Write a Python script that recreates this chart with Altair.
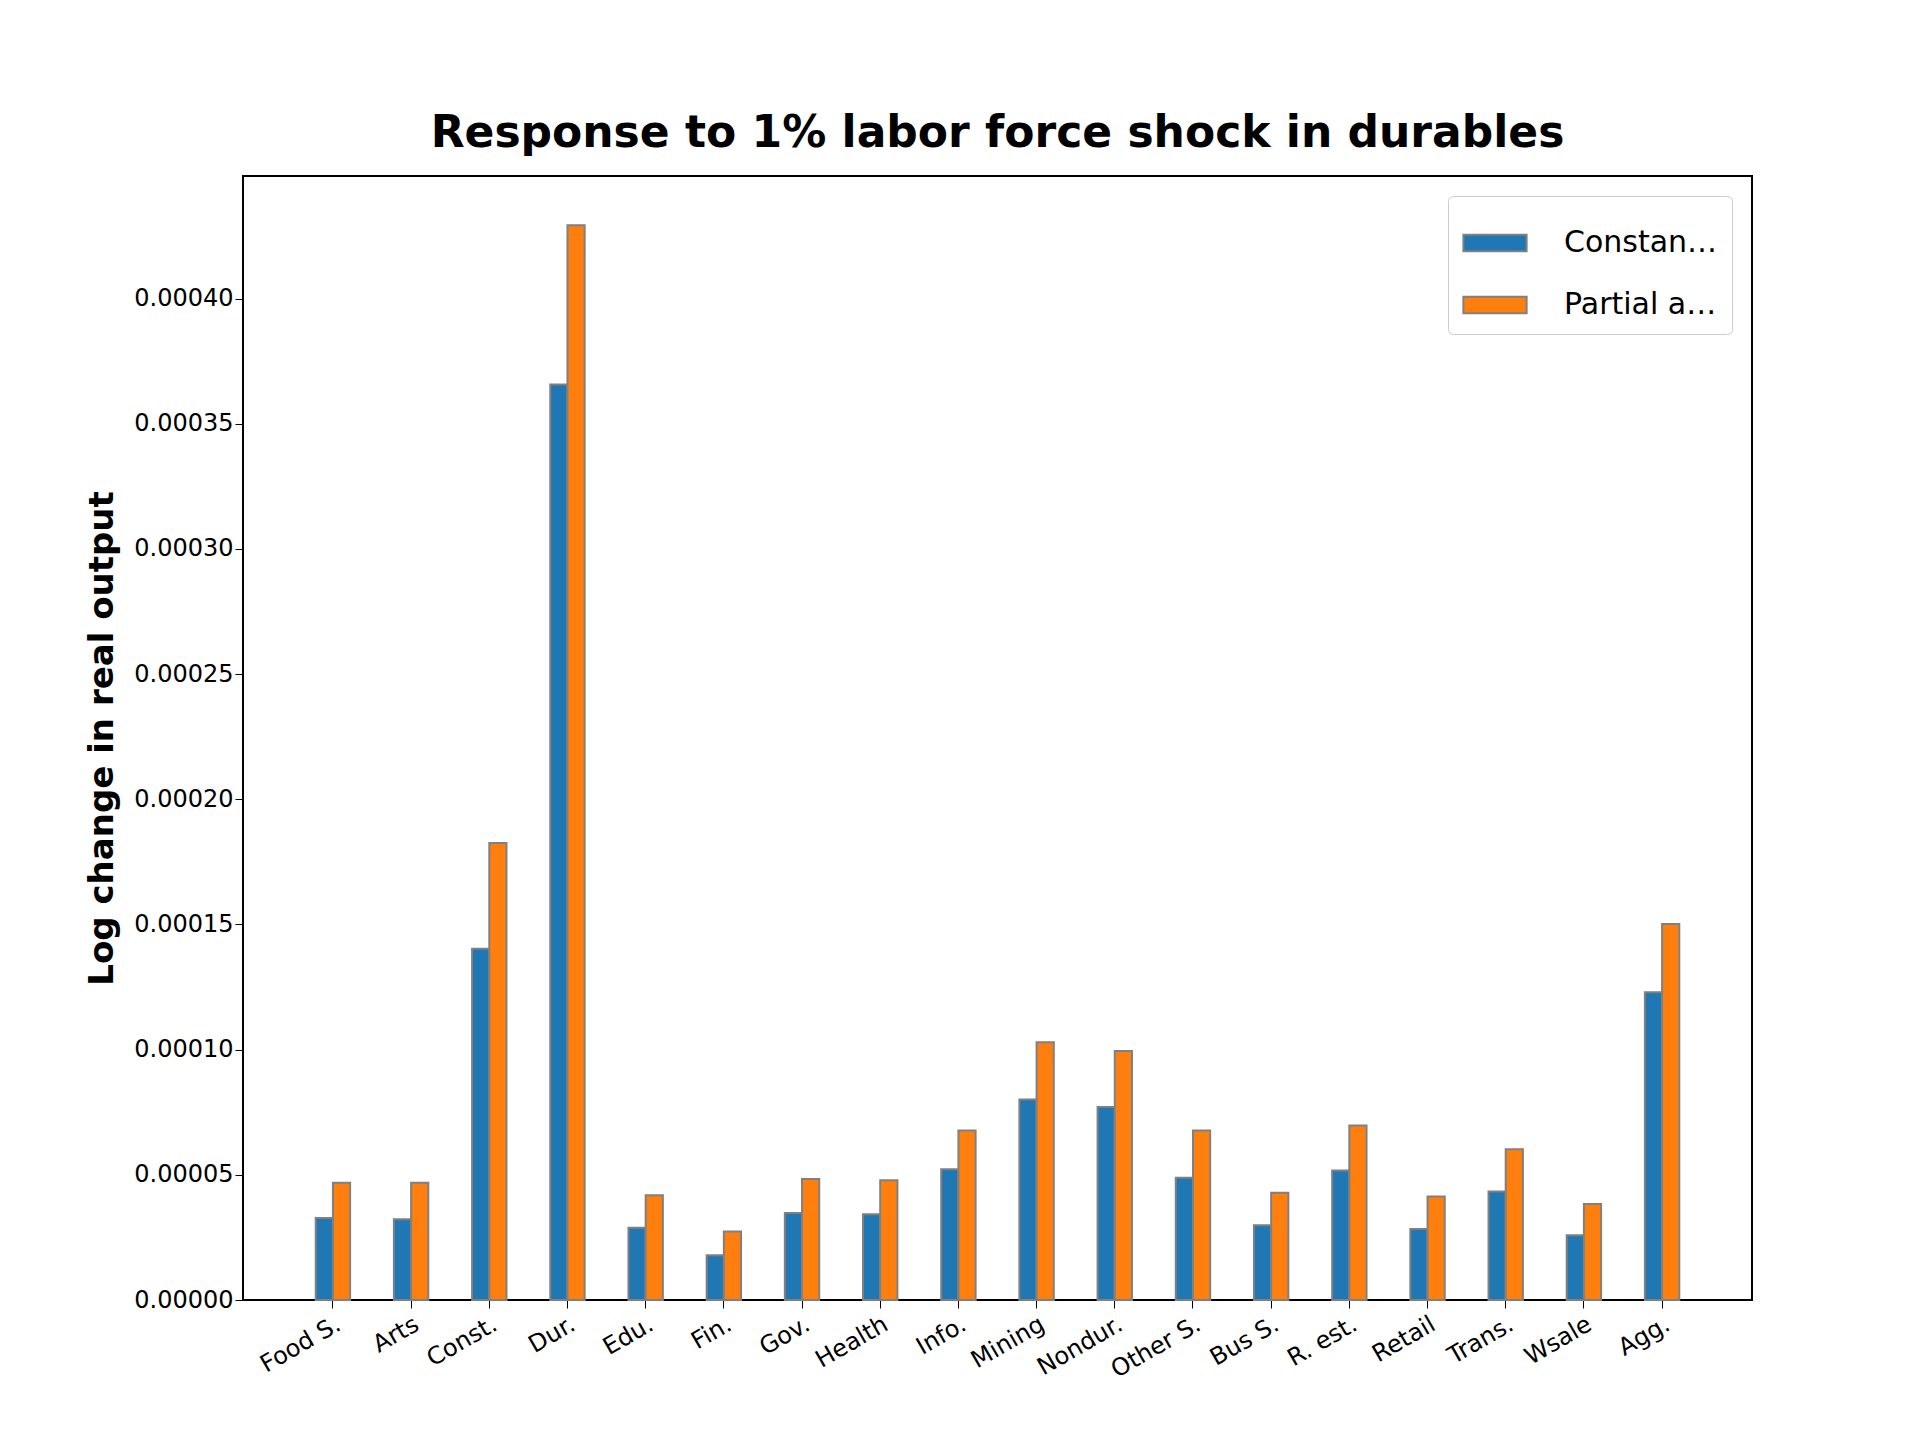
import altair as alt
import pandas as pd

sectors = ["Food S.", "Arts", "Const.", "Dur.", "Edu.", "Fin.", "Gov.", "Health", "Info.",
           "Mining", "Nondur.", "Other S.", "Bus S.", "R. est.", "Retail", "Trans.", "Wsale", "Agg."]
constant_wage = [3.28e-5, 3.23e-5, 1.403e-4, 3.657e-4, 2.89e-5, 1.79e-5, 3.48e-5, 3.43e-5, 5.22e-5,
                 8.01e-5, 7.71e-5, 4.88e-5, 2.99e-5, 5.17e-5, 2.84e-5, 4.33e-5, 2.59e-5, 1.229e-4]
partial_adj = [4.68e-5, 4.68e-5, 1.826e-4, 4.293e-4, 4.18e-5, 2.74e-5, 4.83e-5, 4.78e-5, 6.77e-5,
               1.03e-4, 9.95e-5, 6.77e-5, 4.28e-5, 6.97e-5, 4.13e-5, 6.02e-5, 3.83e-5, 1.502e-4]
series = ["Constant wage", "Partial adjustment"]

df = pd.concat([
    pd.DataFrame({"sector": sectors, "value": constant_wage, "series": series[0]}),
    pd.DataFrame({"sector": sectors, "value": partial_adj, "series": series[1]}),
])

font = "DejaVu Sans"

chart = alt.Chart(df).mark_bar(stroke="gray", strokeWidth=2).encode(
    x=alt.X("sector:N", sort=sectors, title=None,
            scale=alt.Scale(paddingInner=0.56, paddingOuter=0.93),
            axis=alt.Axis(labelAngle=-30, labelAlign="right", labelBaseline="top",
                          labelFontSize=24, labelColor="black", tickSize=8, tickColor="black",
                          domain=False, grid=False, labelPadding=4)),
    xOffset=alt.XOffset("series:N", sort=series),
    y=alt.Y("value:Q", title="Log change in real output",
            scale=alt.Scale(domain=[0, 0.000449], nice=False),
            axis=alt.Axis(values=[i * 0.00005 for i in range(9)], format=".5f",
                          labelFontSize=24, labelColor="black", tickSize=8, tickColor="black",
                          domain=False, grid=False, titleFontSize=34, titleFontWeight="bold",
                          titleColor="black", titlePadding=14)),
    color=alt.Color("series:N", sort=series,
                    scale=alt.Scale(domain=series, range=["#1f77b4", "#ff7f0e"]),
                    legend=alt.Legend(title=None, orient="top-right", offset=20,
                                      fillColor="white", strokeColor="#cccccc", cornerRadius=5,
                                      padding=14, labelFontSize=30, labelColor="black",
                                      symbolType="M-1,-0.26H1V0.26H-1Z", symbolSize=4000,
                                      symbolStrokeColor="gray", symbolStrokeWidth=2,
                                      symbolOpacity=1, rowPadding=14, labelOffset=36)),
).properties(
    width=1509, height=1124,
    title=alt.TitleParams("Response to 1% labor force shock in durables", fontSize=44,
                          fontWeight="bold", color="black", offset=20),
    autosize=alt.AutoSizeParams(type="none"),
    padding={"left": 235, "top": 168, "right": 160, "bottom": 140},
).configure(font=font).configure_view(stroke="black", strokeWidth=2)

chart.save("out.html", embed_options={"renderer": "svg", "actions": False})
